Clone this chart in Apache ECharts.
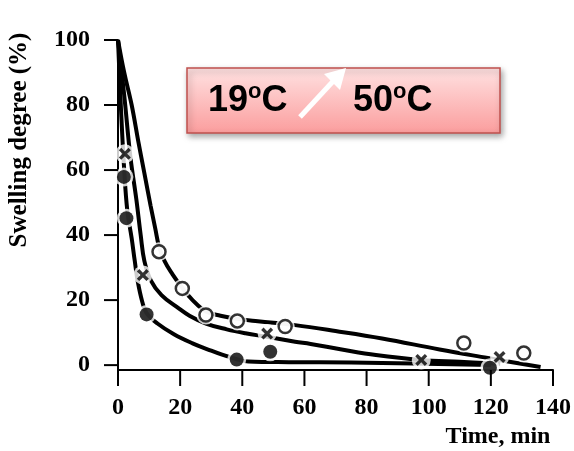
<!DOCTYPE html>
<html>
<head>
<meta charset="utf-8">
<script src="https://cdn.jsdelivr.net/npm/echarts@6/dist/echarts.min.js"></script>
<style>
  html, body { margin: 0; padding: 0; background: #fff; }
  #chart { width: 574px; height: 451px; }
</style>
</head>
<body>
<div id="chart"></div>
<script>
    // measured points, time (min) / swelling degree (%)
    var openT = [13.2, 20.7, 28.3, 38.4, 53.8, 111.3, 130.6];
    var openY = [34.9, 23.6, 15.4, 13.6, 11.9, 6.8, 3.7];
    var crossT = [2.2, 8.0, 48.0, 97.6, 122.8];
    var crossY = [65, 27.7, 9.7, 1.6, 2.5];
    var filledT = [1.9, 2.7, 9.2, 38.2, 49.0, 119.7];
    var filledY = [57.9, 45.2, 15.6, 1.7, 4.1, -0.8];

    // fitted curves
    var fitOpenT = [0, 2, 4.4, 6.5, 8.5, 10.5, 12, 13.2, 15, 17.5, 20.5, 24, 28.3, 33, 38, 45, 57, 70, 85, 103.5, 119, 136];
    var fitOpenY = [100, 90, 80, 69, 59, 49, 42, 36.5, 32, 28, 24, 20, 16.5, 15.2, 14.3, 13.5, 12.3, 10.5, 8.2, 4.8, 2.2, -0.6];
    var fitCrossT = [0, 2, 4, 5.9, 7.3, 8.5, 10.6, 14, 18.9, 23, 28.3, 35, 41, 48, 57, 62, 72, 83, 97.5, 110, 123];
    var fitCrossY = [100, 83, 64, 51, 40, 32, 26, 21.5, 17.9, 15.2, 12.8, 11, 9.8, 8.7, 7.2, 6.5, 4.8, 3.1, 1.6, 1, 0.4];
    var fitFilledT = [0, 1, 2, 3, 4.4, 5.4, 6.4, 7.8, 9.2, 12.7, 18, 24, 29, 33.5, 38, 42, 55, 75, 95, 120];
    var fitFilledY = [100, 78, 60, 47.5, 39, 32, 25.5, 19.5, 16, 12.8, 9.5, 6.7, 4.8, 3.2, 1.9, 1.1, 0.9, 0.8, 0.5, 0];

    var xTicks = [0, 20, 40, 60, 80, 100, 120, 140];
    var yTicks = [0, 20, 40, 60, 80, 100];
    var yMin = -1.5;

    function pairs(xs, ys) {
        var out = [];
        for (var i = 0; i < xs.length; i++) out.push([xs[i], ys[i]]);
        return out;
    }

    var crossPath = 'path://M0,2L2,0L5,3L8,0L10,2L7,5L10,8L8,10L5,7L2,10L0,8L3,5Z';
    var serif = '"Liberation Serif", "DejaVu Serif", serif';
    var sans = '"Liberation Sans", Arial, sans-serif';

    function fitLine(xs, ys) {
        return {
            type: 'line', data: pairs(xs, ys), smooth: 0.4, showSymbol: false,
            lineStyle: {color: '#000', width: 4}, z: 2, silent: true
        };
    }
    function halo(xs, ys) {
        return {
            type: 'scatter', data: pairs(xs, ys), symbol: 'circle', symbolSize: 19,
            itemStyle: {color: '#fff'}, z: 3, silent: true
        };
    }

    // outward tick marks, placed through the axis scales
    var xTickSeries = {
        type: 'custom', silent: true, z: 5,
        data: xTicks.map(function (v) { return [v, yMin]; }),
        renderItem: function (params, api) {
            var p = api.coord([api.value(0), api.value(1)]);
            return {type: 'line', shape: {x1: p[0], y1: p[1], x2: p[0], y2: p[1] + 16},
                style: {stroke: '#000', lineWidth: 2}};
        }
    };
    var yTickSeries = {
        type: 'custom', silent: true, z: 5,
        data: yTicks.map(function (v) { return [0, v]; }),
        renderItem: function (params, api) {
            var p = api.coord([api.value(0), api.value(1)]);
            return {type: 'line', shape: {x1: p[0] - 14, y1: p[1], x2: p[0], y2: p[1]},
                style: {stroke: '#000', lineWidth: 2}};
        }
    };

    var chart = echarts.init(document.getElementById('chart'));
    chart.setOption({
        animation: false,
        grid: {left: 118, right: 7, top: 40, bottom: 81},
        xAxis: {
            type: 'value', min: 0, max: 140, interval: 20,
            axisLine: {show: true, onZero: false, lineStyle: {color: '#000', width: 2}},
            axisTick: {show: false},
            axisLabel: {color: '#000', fontFamily: serif, fontSize: 24, fontWeight: 'bold', margin: 26},
            splitLine: {show: false}
        },
        yAxis: {
            type: 'value', min: yMin, max: 100,
            axisLine: {show: true, onZero: false, lineStyle: {color: '#000', width: 2}},
            axisTick: {show: false},
            axisLabel: {color: '#000', fontFamily: serif, fontSize: 24, fontWeight: 'bold', margin: 28, customValues: yTicks},
            splitLine: {show: false}
        },
        series: [
            fitLine(fitOpenT, fitOpenY),
            fitLine(fitCrossT, fitCrossY),
            fitLine(fitFilledT, fitFilledY),
            halo(openT, openY),
            halo(crossT, crossY),
            halo(filledT, filledY),
            {
                type: 'scatter', data: pairs(openT, openY), symbol: 'circle', symbolSize: 13,
                itemStyle: {color: '#fff', borderColor: '#000', borderWidth: 2.5}, z: 4
            },
            {
                type: 'scatter', data: pairs(crossT, crossY), symbol: crossPath, symbolSize: 12,
                itemStyle: {color: '#000'}, z: 4
            },
            {
                type: 'scatter', data: pairs(filledT, filledY), symbol: 'circle', symbolSize: 14,
                itemStyle: {color: '#000'}, z: 4
            },
            xTickSeries,
            yTickSeries
        ],
        graphic: [
            {
                type: 'text', x: 20, y: 140, rotation: Math.PI / 2,
                style: {
                    text: 'Swelling degree (%)', font: 'bold 25px ' + serif,
                    fill: '#000', align: 'center', verticalAlign: 'middle'
                }
            },
            {
                type: 'text', x: 498, y: 437,
                style: {
                    text: 'Time, min', font: 'bold 24px ' + serif,
                    fill: '#000', align: 'center', verticalAlign: 'middle'
                }
            },
            // temperature label box
            {
                type: 'rect', z: 10,
                shape: {x: 187, y: 68, width: 313, height: 65},
                style: {
                    fill: new echarts.graphic.LinearGradient(0, 0, 0, 1, [
                        {offset: 0, color: '#ffe2e2'},
                        {offset: 1, color: '#fb9d9d'}
                    ]),
                    stroke: '#c0504d', lineWidth: 1.5,
                    shadowBlur: 6, shadowOffsetX: 2, shadowOffsetY: 3, shadowColor: 'rgba(0,0,0,0.35)'
                }
            },
            {
                type: 'text', z: 11, x: 208, y: 101,
                style: {
                    text: '{n|19}{s|o}{n|C}', verticalAlign: 'middle', fill: '#000',
                    rich: {
                        n: {fontFamily: sans, fontSize: 36, fontWeight: 'bold', lineHeight: 40},
                        s: {fontFamily: sans, fontSize: 22, fontWeight: 'bold', verticalAlign: 'top', lineHeight: 22}
                    }
                }
            },
            {
                type: 'text', z: 11, x: 353, y: 101,
                style: {
                    text: '{n|50}{s|o}{n|C}', verticalAlign: 'middle', fill: '#000',
                    rich: {
                        n: {fontFamily: sans, fontSize: 36, fontWeight: 'bold', lineHeight: 40},
                        s: {fontFamily: sans, fontSize: 22, fontWeight: 'bold', verticalAlign: 'top', lineHeight: 22}
                    }
                }
            },
            {
                type: 'line', z: 11,
                shape: {x1: 300, y1: 117, x2: 337, y2: 77},
                style: {stroke: '#fff', lineWidth: 5}
            },
            {
                type: 'polygon', z: 11,
                shape: {points: [[346, 68], [324, 74], [340, 90]]},
                style: {fill: '#fff'}
            }
        ]
    });
</script>
</body>
</html>
